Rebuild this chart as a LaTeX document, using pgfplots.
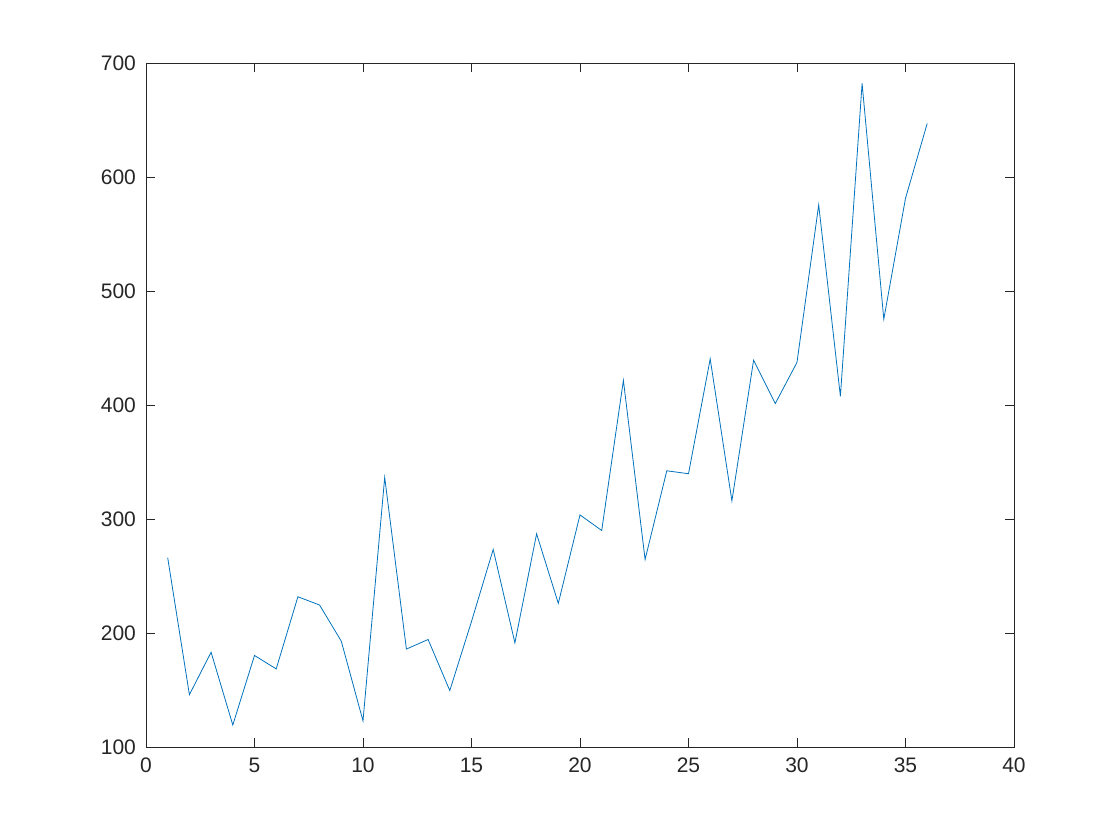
\documentclass[border=0pt]{standalone}
\usepackage{fontspec}
\setmainfont{Liberation Sans}
\usepackage{pgfplots}
\pgfplotsset{compat=1.18}
\definecolor{mblue}{RGB}{0,114,189}
\definecolor{axgray}{RGB}{38,38,38}
\begin{document}
\begin{tikzpicture}
\path[use as bounding box] (0,0) rectangle (560pt,420pt);
\begin{axis}[
  at={(73pt,46.5pt)}, anchor=south west,
  width=434pt, height=342pt, scale only axis,
  xmin=0, xmax=40, ymin=100, ymax=700,
  xtick={0,5,...,40}, ytick={100,200,...,700},
  tick align=inside, major tick length=4.5pt,
  axis line style={axgray, line width=0.4pt},
  every tick/.style={axgray, line width=0.4pt},
  tick label style={font=\fontsize{10.5}{12}\selectfont, text=axgray},
  xticklabel style={yshift=-2pt},
  yticklabel style={xshift=-1.5pt},
  /pgf/number format/assume math mode=true,
  /pgf/number format/set thousands separator={},
]
\addplot[mblue, line width=0.4pt, mark=none] coordinates {
(1,266.0)(2,145.9)(3,183.1)(4,119.3)(5,180.3)(6,168.5)(7,231.8)(8,224.5)(9,192.8)(10,122.9)
(11,336.5)(12,185.9)(13,194.3)(14,149.5)(15,210.1)(16,273.3)(17,191.4)(18,287.0)(19,226.0)(20,303.6)
(21,289.9)(22,421.6)(23,264.5)(24,342.3)(25,339.7)(26,440.4)(27,315.9)(28,439.3)(29,401.3)(30,437.4)
(31,575.5)(32,407.6)(33,682.0)(34,475.3)(35,581.3)(36,646.9)};
\end{axis}
\end{tikzpicture}
\end{document}
